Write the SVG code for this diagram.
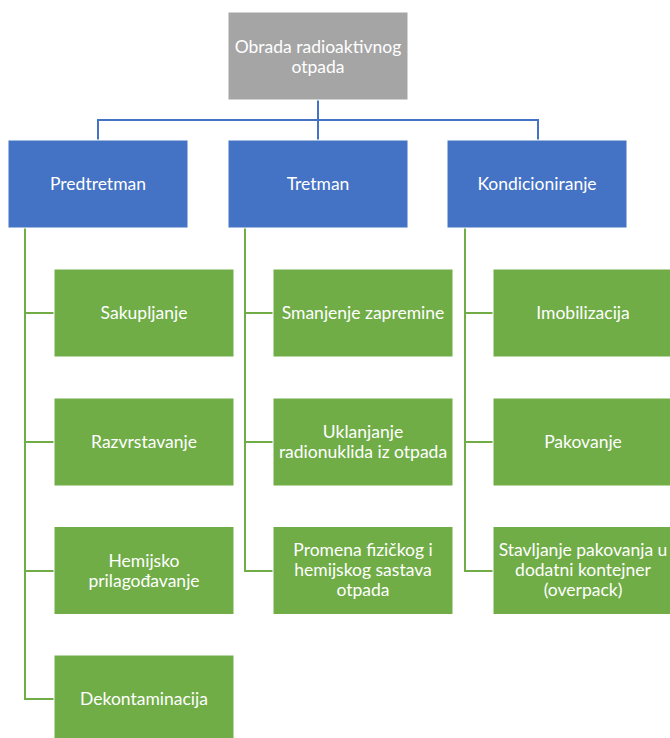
<svg xmlns="http://www.w3.org/2000/svg" width="670" height="738" viewBox="0 0 670 738">
<style>
.box{stroke:#ffffff;stroke-width:1}
.gray{fill:#A5A5A5}
.blue{fill:#4472C4}
.green{fill:#70AD47}
.t{font-family:Lato,"Liberation Sans",sans-serif;font-size:17.5px;fill:#ffffff;text-anchor:middle}
.cb{fill:none;stroke:#4472C4;stroke-width:2}
.cg{fill:none;stroke:#70AD47;stroke-width:2}
</style>
<rect width="670" height="738" fill="#ffffff"/>
<g id="connectors">
<path class="cb" d="M318 100V140M98 140V120H538V140"/>
<path class="cg" d="M25 228V699H54M25 313H54M25 442H54M25 571H54"/>
<path class="cg" d="M245 228V571H273M245 313H273M245 442H273"/>
<path class="cg" d="M465 228V571H493M465 313H493M465 442H493"/>
</g>
<g id="root"><rect class="box gray" x="228" y="12" width="180" height="88"/><text class="t" x="318" y="53">Obrada radioaktivnog</text><text class="t" x="318" y="73">otpada</text></g>
<g id="predtretman"><rect class="box blue" x="8" y="140" width="180" height="88"/><text class="t" x="98" y="190">Predtretman</text></g>
<g id="tretman"><rect class="box blue" x="228" y="140" width="180" height="88"/><text class="t" x="318" y="190">Tretman</text></g>
<g id="kondicioniranje"><rect class="box blue" x="447" y="140" width="180" height="88"/><text class="t" x="537" y="190">Kondicioniranje</text></g>
<g id="sakupljanje"><rect class="box green" x="54" y="269" width="180" height="88"/><text class="t" x="144" y="319">Sakupljanje</text></g>
<g id="razvrstavanje"><rect class="box green" x="54" y="398" width="180" height="88"/><text class="t" x="144" y="448">Razvrstavanje</text></g>
<g id="hemijsko"><rect class="box green" x="54" y="526.5" width="180" height="88"/><text class="t" x="144" y="566.5">Hemijsko</text><text class="t" x="144" y="586.5">prilagođavanje</text></g>
<g id="dekontaminacija"><rect class="box green" x="54" y="655" width="180" height="88"/><text class="t" x="144" y="705">Dekontaminacija</text></g>
<g id="smanjenje"><rect class="box green" x="273" y="269" width="180" height="88"/><text class="t" x="363" y="319">Smanjenje zapremine</text></g>
<g id="uklanjanje"><rect class="box green" x="273" y="398" width="180" height="88"/><text class="t" x="363" y="438">Uklanjanje</text><text class="t" x="363" y="458">radionuklida iz otpada</text></g>
<g id="promena"><rect class="box green" x="273" y="526.5" width="180" height="88"/><text class="t" x="363" y="556">Promena fizičkog i</text><text class="t" x="363" y="576">hemijskog sastava</text><text class="t" x="363" y="596">otpada</text></g>
<g id="imobilizacija"><rect class="box green" x="493" y="269" width="180" height="88"/><text class="t" x="583" y="319">Imobilizacija</text></g>
<g id="pakovanje"><rect class="box green" x="493" y="398" width="180" height="88"/><text class="t" x="583" y="448">Pakovanje</text></g>
<g id="stavljanje"><rect class="box green" x="493" y="526.5" width="180" height="88"/><text class="t" x="583" y="556">Stavljanje pakovanja u</text><text class="t" x="583" y="576">dodatni kontejner</text><text class="t" x="583" y="596">(overpack)</text></g>
</svg>
